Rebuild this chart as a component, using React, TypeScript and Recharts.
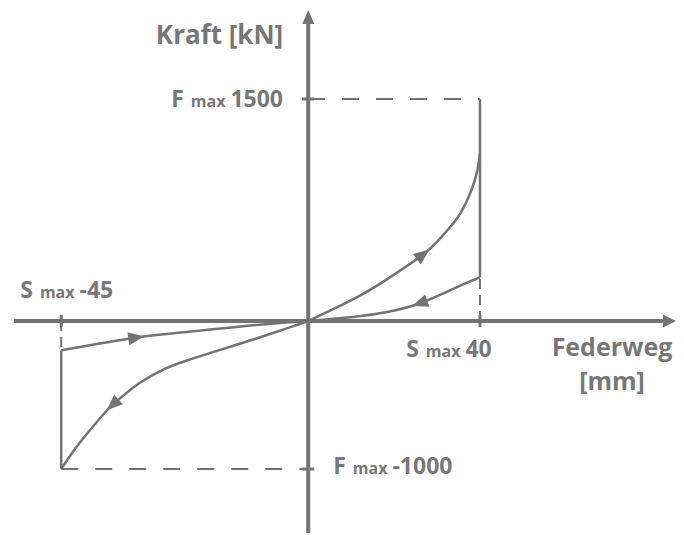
import React from 'react';
import { ComposedChart, Line, XAxis, YAxis, ReferenceLine, ReferenceDot } from 'recharts';

const GRAY = '#737373';
const TEXT = '#777777';
const FONT = '"Open Sans", Lato, sans-serif';

// Kennwerte (Federweg in mm, Kraft in kN)
const S_MAX_NEG = -45;
const S_MAX_POS = 40;
const F_MAX_POS = 1500;
const F_MAX_NEG = -1000;
const F_RELEASE_POS = 295;
const F_RELEASE_NEG = -198;

// arrow: 1 = points along increasing x, -1 = against
const loadPos = [
  { x: 0, y: 0 },
  { x: 10.9, y: 153 },
  { x: 18.7, y: 288 },
  { x: 26.6, y: 446, arrow: 1 },
  { x: 30.4, y: 547 },
  { x: 34.4, y: 682 },
  { x: 36.7, y: 795 },
  { x: 38.3, y: 907 },
  { x: 39.4, y: 1020 },
  { x: 40, y: 1135 },
];

const unloadPos = [
  { x: 0, y: 0 },
  { x: 10.9, y: 29 },
  { x: 18.7, y: 63 },
  { x: 26.2, y: 122, arrow: -1 },
  { x: 34.4, y: 226 },
  { x: 40, y: 295 },
];

const loadNeg = [
  { x: -45, y: -1000 },
  { x: -42.4, y: -860 },
  { x: -40, y: -748 },
  { x: -36.9, y: -613 },
  { x: -35.5, y: -562, arrow: -1 },
  { x: -33.9, y: -511 },
  { x: -30.8, y: -421 },
  { x: -26.6, y: -331 },
  { x: -21.7, y: -262 },
  { x: -15.6, y: -190 },
  { x: -9.6, y: -120 },
  { x: -3.5, y: -45 },
  { x: 0, y: 0 },
];

const unloadNeg = [
  { x: -45, y: -198 },
  { x: -31.5, y: -113, arrow: 1 },
  { x: -21.7, y: -72 },
  { x: -12.6, y: -38 },
  { x: -4.7, y: -12 },
  { x: 0, y: 0 },
];

const W = 684;
const H = 535;
const MARGIN = { top: 10, right: 8, bottom: 2, left: 14 };
// the sketch is not to scale: left and right half use different mm scales
const X_NEG_DOMAIN: [number, number] = [-53.6, 67];
const X_POS_DOMAIN: [number, number] = [-68.4, 85.6];
const Y_DOMAIN: [number, number] = [-1432, 2101];

const renderArrow = (props: any) => {
  const { cx, cy, index, payload, points } = props;
  if (!payload || !payload.arrow || !points) return <g key={`a-${index}`} />;
  const prev = points[index - 1] ?? points[index];
  const next = points[index + 1] ?? points[index];
  let angle = (Math.atan2(next.y - prev.y, next.x - prev.x) * 180) / Math.PI;
  if (payload.arrow < 0) angle += 180;
  return (
    <polygon
      key={`a-${index}`}
      points="9,0 -7,-6.5 -7,6.5"
      fill={GRAY}
      transform={`translate(${cx},${cy}) rotate(${angle})`}
    />
  );
};

const MaxText = ({ x, y, sym, value, anchor }: any) => (
  <text x={x} y={y} textAnchor={anchor} fill={TEXT} fontFamily={FONT} fontWeight={700} fontSize={23}>
    <tspan>{sym}</tspan>
    <tspan fontSize={16} dx={7}>max</tspan>
    <tspan dx={5}>{value}</tspan>
  </text>
);

const titleProps = {
  fill: TEXT,
  fontFamily: FONT,
  fontWeight: 700,
  fontSize: 25,
};

const xAxisShape = (p: any) => (
  <g>
    <line x1={p.x1} y1={p.y1} x2={p.x2 - 8} y2={p.y2} stroke={GRAY} strokeWidth={4} />
    <polygon points={`${p.x2},${p.y2} ${p.x2 - 13},${p.y2 - 6.5} ${p.x2 - 13},${p.y2 + 6.5}`} fill={GRAY} />
    <text x={p.x2 - 64} y={p.y2 + 35} textAnchor="middle" {...titleProps}>
      Federweg
    </text>
    <text x={p.x2 - 64} y={p.y2 + 69} textAnchor="middle" {...titleProps}>
      [mm]
    </text>
  </g>
);

const yAxisShape = (p: any) => (
  <g>
    <line x1={p.x1} y1={p.y1} x2={p.x2} y2={p.y2 + 8} stroke={GRAY} strokeWidth={4} />
    <polygon points={`${p.x2},${p.y2} ${p.x2 - 6},${p.y2 + 14} ${p.x2 + 6},${p.y2 + 14}`} fill={GRAY} />
    <text x={p.x2 - 25} y={p.y2 + 34} textAnchor="end" {...titleProps} fontSize={26}>
      Kraft [kN]
    </text>
  </g>
);

const yTick = (side: 'left' | 'right', value: number) => (p: any) => (
  <g>
    <line x1={p.cx - 6} y1={p.cy} x2={p.cx + 6} y2={p.cy} stroke={GRAY} strokeWidth={3} />
    {side === 'left' ? (
      <MaxText x={p.cx - 25} y={p.cy + 8} sym="F" value={value} anchor="end" />
    ) : (
      <MaxText x={p.cx + 25} y={p.cy + 5} sym="F" value={value} anchor="start" />
    )}
  </g>
);

const xTick = (above: boolean, value: number) => (p: any) => (
  <g>
    <line x1={p.cx} y1={p.cy - 6} x2={p.cx} y2={p.cy + 6} stroke={GRAY} strokeWidth={3} />
    {above ? (
      <MaxText x={p.cx - 41} y={p.cy - 23} sym="S" value={value} anchor="start" />
    ) : (
      <MaxText x={p.cx - 31} y={p.cy + 36} sym="S" value={value} anchor="middle" />
    )}
  </g>
);

const curveProps = {
  type: 'natural' as const,
  dataKey: 'y',
  stroke: GRAY,
  strokeWidth: 2.5,
  dot: renderArrow,
  activeDot: false,
  isAnimationActive: false,
  legendType: 'none' as const,
};

export default function App() {
  return (
    <div style={{ position: 'absolute', left: 0, top: 0, background: '#fff' }}>
      <ComposedChart width={W} height={H} margin={MARGIN}>
        <XAxis xAxisId="neg" type="number" dataKey="x" domain={X_NEG_DOMAIN} allowDataOverflow hide />
        <XAxis xAxisId="pos" type="number" dataKey="x" domain={X_POS_DOMAIN} allowDataOverflow hide />
        <YAxis type="number" domain={Y_DOMAIN} allowDataOverflow hide />

        {/* Hilfslinien */}
        <ReferenceLine
          xAxisId="pos"
          segment={[{ x: 0, y: F_MAX_POS }, { x: S_MAX_POS, y: F_MAX_POS }]}
          stroke={GRAY}
          strokeWidth={2}
          strokeDasharray="17 17"
        />
        <ReferenceLine
          xAxisId="pos"
          segment={[{ x: S_MAX_POS, y: 0 }, { x: S_MAX_POS, y: F_RELEASE_POS }]}
          stroke={GRAY}
          strokeWidth={2}
          strokeDasharray="10 6"
        />
        <ReferenceLine
          xAxisId="neg"
          segment={[{ x: S_MAX_NEG, y: F_MAX_NEG }, { x: 0, y: F_MAX_NEG }]}
          stroke={GRAY}
          strokeWidth={2}
          strokeDasharray="17 17"
        />
        <ReferenceLine
          xAxisId="neg"
          segment={[{ x: S_MAX_NEG, y: 0 }, { x: S_MAX_NEG, y: F_RELEASE_NEG }]}
          stroke={GRAY}
          strokeWidth={2}
          strokeDasharray="10 6"
        />

        {/* Entlastungssprung */}
        <ReferenceLine
          xAxisId="pos"
          segment={[{ x: S_MAX_POS, y: F_RELEASE_POS }, { x: S_MAX_POS, y: F_MAX_POS }]}
          stroke={GRAY}
          strokeWidth={2.5}
        />
        <ReferenceLine
          xAxisId="neg"
          segment={[{ x: S_MAX_NEG, y: F_MAX_NEG }, { x: S_MAX_NEG, y: F_RELEASE_NEG }]}
          stroke={GRAY}
          strokeWidth={2.5}
        />

        {/* Achsen */}
        <ReferenceLine
          xAxisId="neg"
          segment={[{ x: X_NEG_DOMAIN[0], y: 0 }, { x: X_NEG_DOMAIN[1], y: 0 }]}
          shape={xAxisShape}
          ifOverflow="visible"
        />
        <ReferenceLine
          xAxisId="neg"
          segment={[{ x: 0, y: Y_DOMAIN[0] }, { x: 0, y: Y_DOMAIN[1] }]}
          shape={yAxisShape}
          ifOverflow="visible"
        />

        <Line xAxisId="pos" data={loadPos} {...curveProps} />
        <Line xAxisId="pos" data={unloadPos} {...curveProps} />
        <Line xAxisId="neg" data={loadNeg} {...curveProps} />
        <Line xAxisId="neg" data={unloadNeg} {...curveProps} />

        <ReferenceDot xAxisId="pos" x={0} y={F_MAX_POS} r={0} shape={yTick('left', F_MAX_POS)} ifOverflow="visible" />
        <ReferenceDot xAxisId="neg" x={0} y={F_MAX_NEG} r={0} shape={yTick('right', F_MAX_NEG)} ifOverflow="visible" />
        <ReferenceDot xAxisId="neg" x={S_MAX_NEG} y={0} r={0} shape={xTick(true, S_MAX_NEG)} ifOverflow="visible" />
        <ReferenceDot xAxisId="pos" x={S_MAX_POS} y={0} r={0} shape={xTick(false, S_MAX_POS)} ifOverflow="visible" />
      </ComposedChart>
    </div>
  );
}
